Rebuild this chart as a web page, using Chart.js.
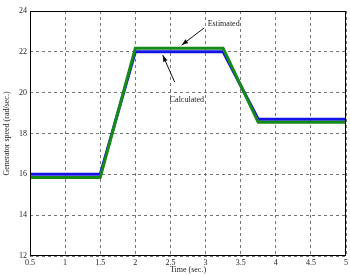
<!DOCTYPE html>
<html>
<head>
<meta charset="utf-8">
<script src="https://cdn.jsdelivr.net/npm/chart.js@4/dist/chart.umd.min.js"></script>
<style>
  html, body { margin: 0; padding: 0; background: #fff; }
  #wrap { width: 350px; height: 275px; position: relative; }
</style>
</head>
<body>
<div id="wrap"><canvas id="myChart"></canvas></div>
<script>
// data
var timePoints = [0.5, 1.5, 2.0, 3.25, 3.75, 5.0];
var calculatedSpeed = [16.0, 16.0, 22.0, 22.0, 18.7, 18.7];
var estimatedSpeed = [15.85, 15.85, 22.17, 22.17, 18.55, 18.55];

var xTicks = [0.5, 1, 1.5, 2, 2.5, 3, 3.5, 4, 4.5, 5];
var yTicks = [12, 14, 16, 18, 20, 22, 24];

// annotations, in data units
var notes = [
  { text: 'Estimated', tx: 3.03, ty: 23.35, fromX: 2.98, fromY: 23.17, toX: 2.66, toY: 22.33 },
  { text: 'Calculated', tx: 2.49, ty: 19.64, fromX: 2.56, fromY: 20.52, toX: 2.39, toY: 21.84 }
];

function toPoints(xs, ys) {
  return xs.map(function (x, i) { return { x: x, y: ys[i] }; });
}

var fontFamily = '"Liberation Serif", "DejaVu Serif", serif';

// draws the full box around the plot and the arrow notes
var boxAndNotes = {
  id: 'boxAndNotes',
  afterDatasetsDraw: function (chart) {
    var ctx = chart.ctx;
    var a = chart.chartArea;
    var xs = chart.scales.x, ys = chart.scales.y;
    ctx.save();
    ctx.strokeStyle = '#000';
    ctx.lineWidth = 1;
    ctx.setLineDash([]);
    ctx.strokeRect(a.left + 0.5, a.top + 0.5, a.right - a.left - 1, a.bottom - a.top - 1);

    ctx.font = '8px ' + fontFamily;
    ctx.fillStyle = '#222';
    ctx.textBaseline = 'middle';
    notes.forEach(function (n) {
      ctx.textAlign = 'left';
      ctx.fillText(n.text, xs.getPixelForValue(n.tx), ys.getPixelForValue(n.ty));
      var x1 = xs.getPixelForValue(n.fromX), y1 = ys.getPixelForValue(n.fromY);
      var x2 = xs.getPixelForValue(n.toX), y2 = ys.getPixelForValue(n.toY);
      ctx.beginPath();
      ctx.moveTo(x1, y1);
      ctx.lineTo(x2, y2);
      ctx.lineWidth = 1;
      ctx.strokeStyle = '#111';
      ctx.stroke();
      var ang = Math.atan2(y2 - y1, x2 - x1);
      ctx.beginPath();
      ctx.moveTo(x2, y2);
      ctx.lineTo(x2 - 7 * Math.cos(ang - 0.35), y2 - 7 * Math.sin(ang - 0.35));
      ctx.lineTo(x2 - 7 * Math.cos(ang + 0.35), y2 - 7 * Math.sin(ang + 0.35));
      ctx.closePath();
      ctx.fillStyle = '#111';
      ctx.fill();
      ctx.fillStyle = '#222';
    });
    ctx.restore();
  }
};

var ctx = document.getElementById('myChart').getContext('2d');
var myChart = new Chart(ctx, {
  type: 'line',
  data: {
    datasets: [
      {
        label: 'Estimated',
        data: toPoints(timePoints, estimatedSpeed),
        borderColor: '#168a16',
        borderWidth: 3,
        pointRadius: 0,
        tension: 0,
        order: 0
      },
      {
        label: 'Calculated',
        data: toPoints(timePoints, calculatedSpeed),
        borderColor: '#1414e6',
        borderWidth: 3,
        pointRadius: 0,
        tension: 0,
        order: 1
      }
    ]
  },
  options: {
    responsive: true,
    maintainAspectRatio: false,
    animation: false,
    layout: { padding: { top: 11, right: 4, left: 2, bottom: 0 } },
    plugins: {
      legend: { display: false },
      tooltip: { enabled: false }
    },
    scales: {
      x: {
        type: 'linear',
        min: 0.5,
        max: 5,
        afterBuildTicks: function (scale) {
          scale.ticks = xTicks.map(function (v) { return { value: v }; });
        },
        afterFit: function (scale) { scale.height = 19; },
        grid: { color: '#777', lineWidth: 1, drawTicks: false },
        border: { display: false, dash: [3, 3] },
        ticks: {
          padding: 2,
          color: '#222',
          maxRotation: 0,
          font: { family: fontFamily, size: 8 },
          callback: function (v) { return String(v); }
        },
        title: {
          display: true,
          text: 'Time (sec.)',
          color: '#222',
          padding: 0,
          font: { family: fontFamily, size: 8 }
        }
      },
      y: {
        min: 12,
        max: 24,
        afterBuildTicks: function (scale) {
          scale.ticks = yTicks.map(function (v) { return { value: v }; });
        },
        afterFit: function (scale) { scale.width = 28; },
        grid: { color: '#777', lineWidth: 1, drawTicks: false },
        border: { display: false, dash: [3, 3] },
        ticks: {
          padding: 3,
          color: '#222',
          font: { family: fontFamily, size: 8 },
          callback: function (v) { return String(v); }
        },
        title: {
          display: true,
          text: 'Generator speed (rad/sec.)',
          color: '#222',
          padding: 0,
          font: { family: fontFamily, size: 8 }
        }
      }
    }
  },
  plugins: [boxAndNotes]
});
</script>
</body>
</html>
